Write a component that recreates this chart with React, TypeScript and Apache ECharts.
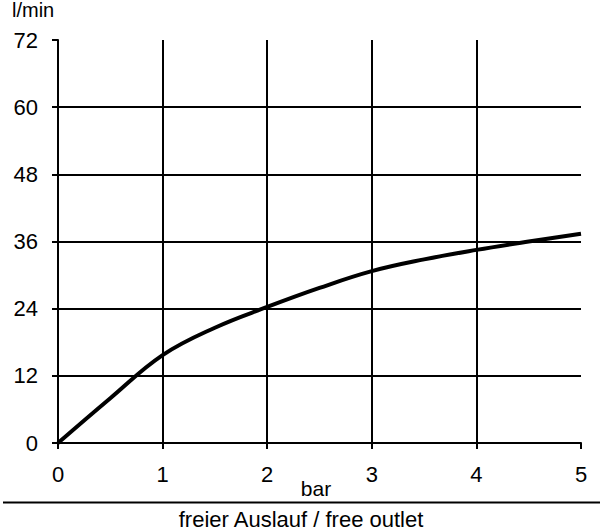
import React, { useEffect, useRef } from "react";
import * as echarts from "echarts";

const pressureBar = [0, 0.5, 1, 1.5, 2, 2.5, 3, 3.5, 4, 4.5, 5];
const flowLpm = [0, 8.0, 15.7, 20.6, 24.3, 27.7, 30.7, 32.8, 34.5, 36.0, 37.4];
const yTicks = [0, 12, 24, 36, 48, 60, 72];
const xTicks = [0, 1, 2, 3, 4, 5];
const yUnit = "l/min";
const xUnit = "bar";
const caption = "freier Auslauf / free outlet";

const FONT = "Liberation Sans, Arial, sans-serif";

export default function App() {
  const ref = useRef<HTMLDivElement>(null);
  useEffect(() => {
    document.body.style.margin = "0";
    const chart = echarts.init(ref.current!, null, { renderer: "svg" });
    chart.setOption({
      animation: false,
      backgroundColor: "#ffffff",
      grid: { left: 58, right: 19, top: 40, bottom: 88, containLabel: false },
      xAxis: {
        type: "value",
        min: xTicks[0],
        max: xTicks[xTicks.length - 1],
        interval: 1,
        axisLine: { show: true, lineStyle: { color: "#000", width: 2 } },
        axisTick: { show: true, length: 6, lineStyle: { color: "#000", width: 2 } },
        axisLabel: { color: "#000", fontSize: 22, fontFamily: FONT, margin: 20 },
        splitLine: { show: true, showMinLine: false, showMaxLine: false, lineStyle: { color: "#000", width: 2 } },
      },
      yAxis: {
        type: "value",
        min: yTicks[0],
        max: yTicks[yTicks.length - 1],
        interval: 12,
        axisLine: { show: true, lineStyle: { color: "#000", width: 2 } },
        axisTick: { show: true, length: 6, lineStyle: { color: "#000", width: 2 } },
        axisLabel: { color: "#000", fontSize: 22, fontFamily: FONT, margin: 20 },
        splitLine: { show: true, showMinLine: false, showMaxLine: false, lineStyle: { color: "#000", width: 2 } },
      },
      graphic: [
        {
          type: "text",
          left: 12,
          top: 0,
          style: { text: yUnit, fill: "#000", font: `20px ${FONT}` },
        },
        {
          type: "text",
          x: 316,
          y: 478,
          style: { text: xUnit, fill: "#000", font: `21px ${FONT}`, textAlign: "center", textVerticalAlign: "top" },
        },
        {
          type: "line",
          shape: { x1: 3, y1: 502.5, x2: 600, y2: 502.5 },
          style: { stroke: "#000", lineWidth: 2 },
        },
        {
          type: "text",
          x: 301,
          y: 508,
          style: { text: caption, fill: "#000", font: `22px ${FONT}`, textAlign: "center", textVerticalAlign: "top" },
        },
      ],
      series: [
        {
          type: "line",
          data: pressureBar.map((p, i) => [p, flowLpm[i]]),
          smooth: 0.4,
          showSymbol: false,
          lineStyle: { color: "#000", width: 4 },
        },
      ],
    });
    return () => chart.dispose();
  }, []);
  return <div ref={ref} style={{ width: 600, height: 531 }} />;
}
